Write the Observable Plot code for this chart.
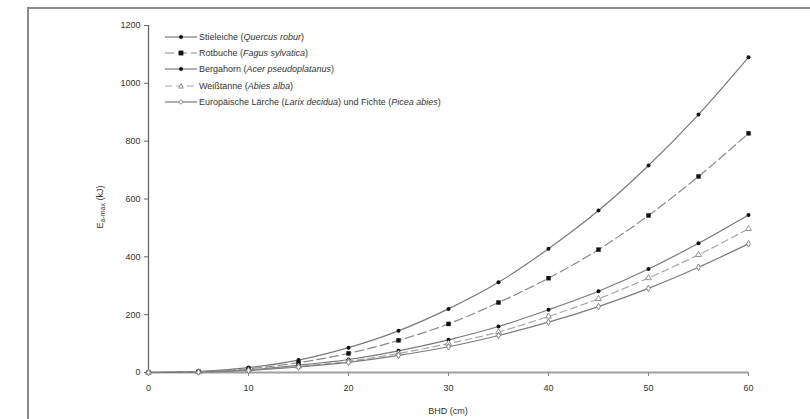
<!DOCTYPE html>
<html><head><meta charset="utf-8">
<script src="https://cdn.jsdelivr.net/npm/d3@7"></script>
<script src="https://cdn.jsdelivr.net/npm/@observablehq/plot@0.6"></script>
<style>
body{margin:0;background:#fff;font-family:"Liberation Sans",Arial,sans-serif}
#wrap{position:relative;width:810px;height:419px;overflow:hidden}
#frame{position:absolute;left:27px;top:7px;width:900px;height:500px;border-top:2px solid #8a8a8a;border-left:2px solid #8a8a8a}
#chart{position:absolute;left:0;top:0}
#legend{position:absolute;left:165px;top:29px;font-size:9px;color:#333}
.row{height:16.2px;display:flex;align-items:center;white-space:nowrap}
.row svg{margin-right:2px}
</style></head>
<body><div id="wrap"><div id="frame"></div><div id="chart"></div><div id="legend"></div></div>
<script>
const dbh = [0,5,10,15,20,25,30,35,40,45,50,55,60];
const speciesNames = ["Stieleiche","Rotbuche","Bergahorn","Weißtanne","Lärche/Fichte"];
const legendHtml = [
  "Stieleiche (<i>Quercus robur</i>)",
  "Rotbuche (<i>Fagus sylvatica</i>)",
  "Bergahorn (<i>Acer pseudoplatanus</i>)",
  "Weißtanne (<i>Abies alba</i>)",
  "Europäische Lärche (<i>Larix decidua</i>) und Fichte (<i>Picea abies</i>)"
];
const stieleiche = [0,3.5,17,43,86,144,220,312,428,560,716,892,1090];
const rotbuche   = [0,3,13,34,66,111,168,242,326,425,543,678,827];
const bergahorn  = [0,2,9,25,45,75,113,159,217,281,358,447,545];
const weisstanne = [0,1.5,8,21,39,66,100,140,194,255,327,407,497];
const laerche    = [0,1.4,7,19,35,59,89,128,174,228,291,364,445];
const seriesValues = [stieleiche,rotbuche,bergahorn,weisstanne,laerche];
const xTicks = [0,10,20,30,40,50,60];
const yTicks = [0,200,400,600,800,1000,1200];

const styles = [
  {stroke:"#7a7a7a", dash:null, symbol:"circle", r:2, fill:"#111", mstroke:"none"},
  {stroke:"#8a8a8a", dash:"9,4", symbol:"square", r:2.5, fill:"#111", mstroke:"none"},
  {stroke:"#7a7a7a", dash:null, symbol:"circle", r:2, fill:"#111", mstroke:"none"},
  {stroke:"#a8a8a8", dash:"7,4", symbol:"triangle", r:2.2, fill:"white", mstroke:"#888"},
  {stroke:"#7a7a7a", dash:null, symbol:"diamond", r:2, fill:"white", mstroke:"#777"}
];

const data = speciesNames.map((s,i)=>dbh.map((d,j)=>({species:s,x:d,y:seriesValues[i][j]})));

const marks = [
  Plot.ruleY([0],{stroke:"#a0a0a0",strokeWidth:1.8}),
  Plot.ruleX([0],{stroke:"#666",strokeWidth:1.3}),
  Plot.axisX({ticks:xTicks,tickSize:4,tickPadding:8,stroke:"#888",label:null,fill:"#333",tickFormat:d3.format("d")}),
  Plot.axisY({ticks:yTicks,tickSize:4,tickPadding:4,stroke:"#666",label:null,fill:"#333",tickFormat:d3.format("d")})
];
data.forEach((d,i)=>{
  const st = styles[i];
  marks.push(Plot.line(d,{x:"x",y:"y",stroke:st.stroke,strokeWidth:1.2,strokeDasharray:st.dash,curve:"monotone-x"}));
});
data.forEach((d,i)=>{
  const st = styles[i];
  marks.push(Plot.dot(d,{x:"x",y:"y",symbol:()=>st.symbol,r:st.r,fill:st.fill,stroke:st.mstroke,strokeWidth:0.9}));
});

const chart = Plot.plot({
  width:810,height:419,
  marginLeft:148,marginRight:62,marginTop:25,marginBottom:47,
  x:{domain:[0,60]},
  y:{domain:[0,1200]},
  symbol:{type:"identity"},
  style:{fontFamily:"'Liberation Sans',Arial,sans-serif",fontSize:"9px",background:"transparent",overflow:"visible"},
  marks
});
document.getElementById("chart").appendChild(chart);

// axis titles
const svg = d3.select(chart);
const yt = svg.append("text")
  .attr("transform","translate(103,207) rotate(-90)")
  .attr("text-anchor","middle").attr("font-size",9).attr("fill","#333");
yt.append("tspan").text("E");
yt.append("tspan").attr("font-size",7).attr("dy",2).text("a-max");
yt.append("tspan").attr("dy",-2).text(" (kJ)");
svg.append("text").attr("x",448).attr("y",414).attr("text-anchor","middle")
  .attr("font-size",9).attr("fill","#333").text("BHD (cm)");

// legend
const leg = document.getElementById("legend");
function markerSvg(st){
  const c = 16, cy = 5;
  let m = "";
  if(st.symbol==="circle") m = `<circle cx="${c}" cy="${cy}" r="2" fill="${st.fill}"/>`;
  if(st.symbol==="square") m = `<rect x="${c-2.4}" y="${cy-2.4}" width="4.8" height="4.8" fill="${st.fill}"/>`;
  if(st.symbol==="triangle") m = `<path d="M${c-2.3},${cy+2.1}L${c},${cy-2.3}L${c+2.3},${cy+2.1}Z" fill="white" stroke="${st.mstroke}" stroke-width="0.9"/>`;
  if(st.symbol==="diamond") m = `<path d="M${c},${cy-2.3}L${c+2.3},${cy}L${c},${cy+2.3}L${c-2.3},${cy}Z" fill="white" stroke="${st.mstroke}" stroke-width="0.9"/>`;
  return `<svg width="32" height="10"><line x1="0" x2="32" y1="${cy}" y2="${cy}" stroke="${st.stroke}" stroke-width="1.2" ${st.dash?`stroke-dasharray="${st.dash}"`:""}/>${m}</svg>`;
}
legendHtml.forEach((h,i)=>{
  const row = document.createElement("div");
  row.className="row";
  row.innerHTML = markerSvg(styles[i]) + `<span>${h}</span>`;
  leg.appendChild(row);
});
</script>
</body></html>
